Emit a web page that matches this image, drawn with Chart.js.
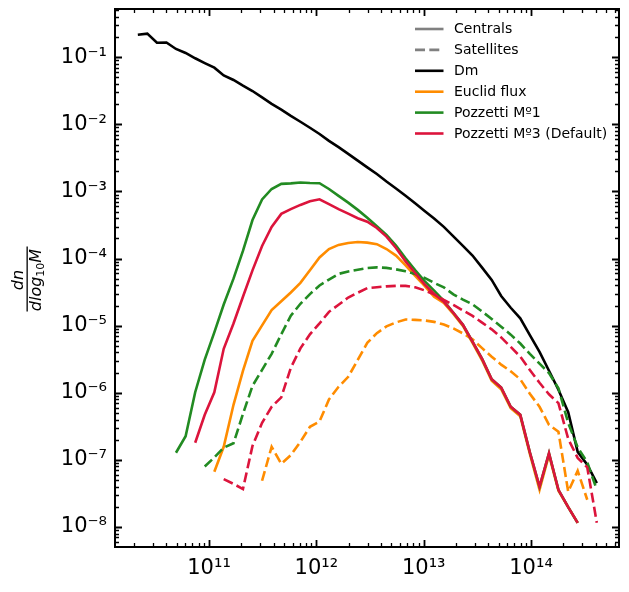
<!DOCTYPE html>
<html>
<head>
<meta charset="utf-8">
<script src="https://cdn.jsdelivr.net/npm/chart.js@4.4.1/dist/chart.umd.min.js"></script>
<style>html,body{margin:0;padding:0;background:#fff;}</style>
</head>
<body>
<canvas id="hmf" width="629" height="592"></canvas>
<script>
// halo mass bins (Msun/h)
const massBins = [2.17e10, 2.66e10, 3.27e10, 4.01e10, 4.92e10, 6.05e10, 7.43e10, 9.12e10, 1.12e11, 1.37e11,
  1.69e11, 2.07e11, 2.54e11, 3.12e11, 3.83e11, 4.71e11, 5.78e11, 7.10e11, 8.71e11, 1.07e12,
  1.31e12, 1.61e12, 1.98e12, 2.43e12, 2.98e12, 3.66e12, 4.50e12, 5.52e12, 6.78e12, 8.32e12,
  1.02e13, 1.25e13, 1.54e13, 1.89e13, 2.32e13, 2.85e13, 3.50e13, 4.30e13, 5.27e13, 6.47e13,
  7.94e13, 9.75e13, 1.20e14, 1.47e14, 1.80e14, 2.22e14, 2.72e14, 3.34e14, 4.10e14];

const dmAll = [0.217, 0.225, 0.165, 0.166, 0.133, 0.116, 0.0966, 0.0820, 0.0700, 0.0536,
  0.0459, 0.0378, 0.0314, 0.0252, 0.0202, 0.0166, 0.0134, 0.01095, 0.00891, 0.00720,
  0.00567, 0.00457, 0.00364, 0.00288, 0.00229, 0.00182, 0.00141, 0.00111, 8.65e-4, 6.69e-4,
  5.14e-4, 3.96e-4, 2.97e-4, 2.14e-4, 1.55e-4, 1.11e-4, 7.35e-5, 4.82e-5, 2.77e-5, 1.85e-5,
  1.29e-5, 7.23e-6, 4.08e-6, 2.13e-6, 1.11e-6, 5.14e-7, 1.32e-7, 8.47e-8, 4.52e-8];

const euclidCen = [null, null, null, null, null, null, null, null, 6.66e-8, 1.57e-7,
  6.63e-7, 2.13e-6, 5.95e-6, 1.01e-5, 1.71e-5, 2.31e-5, 3.13e-5, 4.35e-5, 6.72e-5, 1.04e-4,
  1.39e-4, 1.60e-4, 1.71e-4, 1.77e-4, 1.73e-4, 1.64e-4, 1.39e-4, 1.11e-4, 7.95e-5, 5.53e-5,
  3.92e-5, 2.69e-5, 2.19e-5, 1.50e-5, 9.95e-6, 5.56e-6, 3.05e-6, 1.51e-6, 1.13e-6, 5.88e-7,
  4.47e-7, 1.23e-7, 3.59e-8, 1.19e-7, 3.47e-8, 1.98e-8, 1.15e-8, null, null];

const euclidSat = [null, null, null, null, null, null, null, null, null, null,
  null, null, null, 4.89e-8, 1.57e-7, 8.76e-8, 1.18e-7, 1.86e-7, 3.12e-7, 3.74e-7,
  7.95e-7, 1.23e-6, 1.73e-6, 3.10e-6, 5.56e-6, 7.75e-6, 9.78e-6, 1.12e-5, 1.24e-5, 1.22e-5,
  1.20e-5, 1.14e-5, 1.04e-5, 9.10e-6, 7.67e-6, 6.28e-6, 4.63e-6, 3.45e-6, 2.63e-6, 2.09e-6,
  1.59e-6, 9.66e-7, 6.19e-7, 3.34e-7, 2.63e-7, 3.35e-8, 6.89e-8, 2.55e-8, null];

const poz1Cen = [null, null, null, null, 1.28e-7, 2.26e-7, 1.02e-6, 3.12e-6, 7.96e-6, 2.07e-5,
  5.02e-5, 1.30e-4, 3.75e-4, 7.60e-4, 1.09e-3, 1.30e-3, 1.32e-3, 1.36e-3, 1.34e-3, 1.33e-3,
  1.09e-3, 8.60e-4, 6.83e-4, 5.32e-4, 4.06e-4, 3.03e-4, 2.26e-4, 1.56e-4, 1.01e-4, 6.72e-5,
  4.63e-5, 3.33e-5, 2.34e-5, 1.56e-5, 1.03e-5, 5.81e-6, 3.20e-6, 1.59e-6, 1.20e-6, 6.19e-7,
  4.70e-7, 1.30e-7, 3.98e-8, 1.26e-7, 3.59e-8, 1.98e-8, 1.15e-8, null, null];

const poz1Sat = [null, null, null, null, null, null, null, 7.98e-8, 1.09e-7, 1.52e-7,
  1.77e-7, 4.83e-7, 1.27e-6, 2.20e-6, 3.81e-6, 7.46e-6, 1.41e-5, 2.12e-5, 2.96e-5, 3.98e-5,
  4.87e-5, 5.92e-5, 6.41e-5, 6.82e-5, 7.22e-5, 7.40e-5, 7.27e-5, 6.91e-5, 6.47e-5, 5.88e-5,
  5.16e-5, 4.35e-5, 3.73e-5, 2.93e-5, 2.45e-5, 2.08e-5, 1.63e-5, 1.26e-5, 9.65e-6, 7.36e-6,
  5.43e-6, 3.80e-6, 2.72e-6, 1.97e-6, 1.17e-6, 3.55e-7, 1.54e-7, 9.22e-8, 3.59e-8];

const poz3Cen = [null, null, null, null, null, null, 1.80e-7, 4.70e-7, 1.02e-6, 4.52e-6,
  1.08e-5, 2.70e-5, 6.68e-5, 1.54e-4, 2.97e-4, 4.64e-4, 5.47e-4, 6.31e-4, 7.14e-4, 7.65e-4,
  6.49e-4, 5.47e-4, 4.67e-4, 4.00e-4, 3.54e-4, 2.86e-4, 2.13e-4, 1.44e-4, 9.09e-5, 6.11e-5,
  4.13e-5, 2.97e-5, 2.27e-5, 1.56e-5, 1.03e-5, 5.81e-6, 3.20e-6, 1.59e-6, 1.20e-6, 6.19e-7,
  4.70e-7, 1.30e-7, 4.02e-8, 1.26e-7, 3.59e-8, 1.98e-8, 1.15e-8, null, null];

const poz3Sat = [null, null, null, null, null, null, null, null, null, 5.18e-8,
  4.40e-8, 3.68e-8, 1.62e-7, 3.57e-7, 6.19e-7, 8.57e-7, 2.36e-6, 4.60e-6, 7.44e-6, 1.08e-5,
  1.61e-5, 2.05e-5, 2.63e-5, 3.10e-5, 3.63e-5, 3.75e-5, 3.86e-5, 3.92e-5, 3.92e-5, 3.73e-5,
  3.36e-5, 2.93e-5, 2.42e-5, 2.04e-5, 1.69e-5, 1.40e-5, 1.11e-5, 8.83e-6, 6.69e-6, 4.83e-6,
  3.46e-6, 2.19e-6, 1.41e-6, 9.50e-7, 7.02e-7, 2.06e-7, 1.07e-7, 7.77e-8, 1.16e-8];

const xTickValues = [1e11, 1e12, 1e13, 1e14];
const xTickLabels = ['10\u00b9\u00b9', '10\u00b9\u00b2', '10\u00b9\u00b3', '10\u00b9\u2074'];
const yTickValues = [1e-8, 1e-7, 1e-6, 1e-5, 1e-4, 1e-3, 1e-2, 1e-1];
const yTickLabels = ['10\u207b\u2078', '10\u207b\u2077', '10\u207b\u2076', '10\u207b\u2075',
  '10\u207b\u2074', '10\u207b\u00b3', '10\u207b\u00b2', '10\u207b\u00b9'];

const legendLabels = ['Centrals', 'Satellites', 'Dm', 'Euclid flux', 'Pozzetti M\u00ba1', 'Pozzetti M\u00ba3 (Default)'];
const legendColors = ['#808080', '#808080', '#000000', '#ff8c00', '#228b22', '#dc143c'];
const legendDashed = [false, true, false, false, false, false];

const DASH = [10, 4.3];
const LW = 2.6;

function toPoints(ys) {
  return massBins.map((m, i) => ({x: m, y: ys[i]})).filter(p => p.y !== null);
}

function series(ys, color, dashed, order) {
  return {
    data: toPoints(ys),
    borderColor: color,
    borderWidth: LW,
    borderDash: dashed ? DASH : [],
    pointRadius: 0,
    tension: 0,
    fill: false,
    order: order
  };
}

function logTicks(scale) {
  const ticks = [];
  const lo = Math.floor(Math.log10(scale.min));
  const hi = Math.ceil(Math.log10(scale.max));
  for (let e = lo; e <= hi; e++) {
    for (let m = 1; m < 10; m++) {
      const v = m * Math.pow(10, e);
      if (v >= scale.min && v <= scale.max) ticks.push({value: v, major: m === 1});
    }
  }
  scale.ticks = ticks;
}

function labelFor(values, labels) {
  return function (v) {
    for (let i = 0; i < values.length; i++) {
      if (Math.abs(Math.log10(v) - Math.log10(values[i])) < 1e-6) return labels[i];
    }
    return '';
  };
}

function noPad(s) {
  s.paddingTop = 0; s.paddingBottom = 0; s.paddingLeft = 0; s.paddingRight = 0;
}

// inward ticks on all four sides + frame, like matplotlib
const frameTicks = {
  id: 'frameTicks',
  afterDatasetsDraw(chart) {
    const {ctx, chartArea: a, scales} = chart;
    ctx.save();
    ctx.strokeStyle = '#000';
    scales.x.ticks.forEach(t => {
      const px = Math.round(scales.x.getPixelForValue(t.value)) + 0.5;
      const len = t.major ? 7 : 4;
      ctx.lineWidth = t.major ? 1.8 : 1.3;
      ctx.beginPath();
      ctx.moveTo(px, a.bottom); ctx.lineTo(px, a.bottom - len);
      ctx.moveTo(px, a.top); ctx.lineTo(px, a.top + len);
      ctx.stroke();
    });
    scales.y.ticks.forEach(t => {
      const py = Math.round(scales.y.getPixelForValue(t.value)) + 0.5;
      const len = t.major ? 7 : 4;
      ctx.lineWidth = t.major ? 1.8 : 1.3;
      ctx.beginPath();
      ctx.moveTo(a.left, py); ctx.lineTo(a.left + len, py);
      ctx.moveTo(a.right, py); ctx.lineTo(a.right - len, py);
      ctx.stroke();
    });
    ctx.lineWidth = 2;
    ctx.strokeRect(a.left, a.top, a.right - a.left, a.bottom - a.top);
    ctx.restore();
  }
};

const legendBox = {
  id: 'legendBox',
  afterDraw(chart) {
    const ctx = chart.ctx;
    ctx.save();
    ctx.font = '14px "DejaVu Sans"';
    ctx.textBaseline = 'middle';
    ctx.fillStyle = '#000';
    legendLabels.forEach((lab, i) => {
      const y = 29 + i * 20.9;
      ctx.strokeStyle = legendColors[i];
      ctx.lineWidth = LW;
      ctx.setLineDash(legendDashed[i] ? DASH : []);
      ctx.beginPath();
      ctx.moveTo(415, y); ctx.lineTo(443.5, y);
      ctx.stroke();
      ctx.fillText(lab, 454, y + 0.5);
    });
    ctx.restore();
  }
};

// y-axis label: dn / dlog10 M as a fraction, rotated
const yFraction = {
  id: 'yFraction',
  afterDraw(chart) {
    const ctx = chart.ctx;
    const cy = 280;
    ctx.save();
    ctx.fillStyle = '#000';
    ctx.fillRect(26.5, 246.5, 1.3, 65);
    // numerator
    ctx.save();
    ctx.translate(23, cy);
    ctx.rotate(-Math.PI / 2);
    ctx.font = 'italic 16px "DejaVu Sans"';
    ctx.textAlign = 'center';
    ctx.textBaseline = 'alphabetic';
    ctx.fillText('dn', 0, 0);
    ctx.restore();
    // denominator
    ctx.save();
    ctx.translate(40.5, cy);
    ctx.rotate(-Math.PI / 2);
    ctx.textBaseline = 'alphabetic';
    ctx.font = 'italic 16px "DejaVu Sans"';
    const w1 = ctx.measureText('dlog').width;
    const wM = ctx.measureText('M').width;
    ctx.font = '11px "DejaVu Sans"';
    const w2 = ctx.measureText('10').width;
    let x0 = -(w1 + w2 + wM) / 2;
    ctx.font = 'italic 16px "DejaVu Sans"';
    ctx.fillText('dlog', x0, 0);
    ctx.font = '11px "DejaVu Sans"';
    ctx.fillText('10', x0 + w1, 3);
    ctx.font = 'italic 16px "DejaVu Sans"';
    ctx.fillText('M', x0 + w1 + w2, 0);
    ctx.restore();
    ctx.restore();
  }
};

new Chart(document.getElementById('hmf'), {
  type: 'line',
  data: {
    datasets: [
      series(dmAll, '#000000', false, 5),
      series(euclidCen, '#ff8c00', false, 4),
      series(euclidSat, '#ff8c00', true, 4),
      series(poz1Cen, '#228b22', false, 3),
      series(poz1Sat, '#228b22', true, 3),
      series(poz3Cen, '#dc143c', false, 1),
      series(poz3Sat, '#dc143c', true, 2)
    ]
  },
  options: {
    responsive: false,
    animation: false,
    devicePixelRatio: 1,
    events: [],
    layout: { padding: { top: 9, right: 10, left: 0, bottom: 0 } },
    plugins: { legend: { display: false }, tooltip: { enabled: false } },
    scales: {
      x: {
        type: 'logarithmic',
        min: 1.33e10,
        max: 6.6e14,
        afterBuildTicks: logTicks,
        afterFit: s => { s.height = 45; noPad(s); },
        grid: { display: false, drawTicks: false },
        border: { display: false },
        ticks: {
          autoSkip: false, maxRotation: 0, minRotation: 0, padding: 9,
          color: '#000', font: { family: 'DejaVu Sans', size: 21 },
          callback: labelFor(xTickValues, xTickLabels)
        }
      },
      y: {
        type: 'logarithmic',
        min: 5.04e-9,
        max: 0.524,
        afterBuildTicks: logTicks,
        afterFit: s => { s.width = 115; noPad(s); },
        grid: { display: false, drawTicks: false },
        border: { display: false },
        ticks: {
          autoSkip: false, padding: 8,
          color: '#000', font: { family: 'DejaVu Sans', size: 21 },
          callback: labelFor(yTickValues, yTickLabels)
        }
      }
    }
  },
  plugins: [frameTicks, legendBox, yFraction]
});
</script>
</body>
</html>
